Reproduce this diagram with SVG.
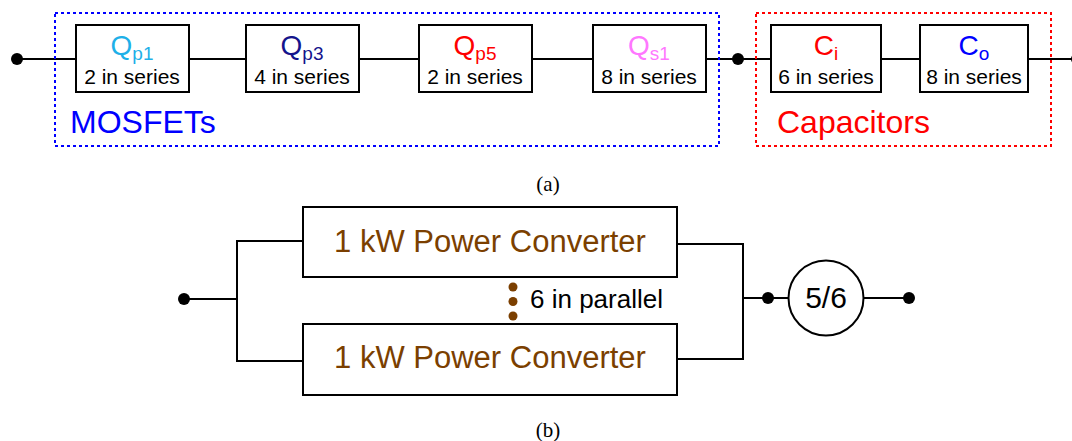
<svg xmlns="http://www.w3.org/2000/svg" width="1072" height="441" viewBox="0 0 1072 441">
<style>
.box{fill:#fff;stroke:#000;stroke-width:2}
.w{fill:none;stroke:#000;stroke-width:2}
.dot{fill:#000}
.bdot{fill:#7B3F00}
text{font-family:"Liberation Sans",Arial,sans-serif}
.big{font-size:28px;text-anchor:middle}
.sub{font-size:19px}
.ser{font-size:21px;text-anchor:middle;fill:#000}
.grp{font-size:32px}
.cap{font-family:"Liberation Serif","Times New Roman",serif;font-size:21px;text-anchor:middle;fill:#000}
.conv{font-size:31px;text-anchor:middle;fill:#7B3F00}
</style>
<rect width="1072" height="441" fill="#fff"/>
<g id="connectors">
<line class="w" x1="17" y1="59" x2="76" y2="59"/>
<line class="w" x1="189" y1="59" x2="246" y2="59"/>
<line class="w" x1="359" y1="59" x2="419" y2="59"/>
<line class="w" x1="532" y1="59" x2="593" y2="59"/>
<line class="w" x1="706" y1="59" x2="771" y2="59"/>
<line class="w" x1="881" y1="59" x2="920" y2="59"/>
<line class="w" x1="1028" y1="59" x2="1072" y2="59"/>
<polyline class="w" points="184,299 237,299"/>
<polyline class="w" points="303,241 237,241 237,361 303,361"/>
<polyline class="w" points="677,244 743,244 743,359 677,359"/>
<line class="w" x1="743" y1="298" x2="788" y2="298"/>
<line class="w" x1="863" y1="298" x2="909" y2="298"/>
</g>
<g id="groups">
<rect x="55" y="13" width="664" height="133" fill="none" stroke="#0000FF" stroke-width="2" stroke-dasharray="3,3"/>
<text class="grp" x="70" y="133" fill="#0000FF">MOSFETs</text>
<rect x="756" y="13" width="295" height="133" fill="none" stroke="#FF0000" stroke-width="2" stroke-dasharray="3,3"/>
<text class="grp" x="777" y="133" fill="#FF0000">Capacitors</text>
</g>
<g id="dots">
<circle class="dot" cx="17" cy="59" r="6"/>
<circle class="dot" cx="738" cy="59" r="6"/>
<circle class="dot" cx="1077" cy="59" r="6"/>
<circle class="dot" cx="184" cy="299" r="6"/>
<circle class="dot" cx="768" cy="298" r="6"/>
<circle class="dot" cx="909" cy="298" r="6"/>
</g>
<g id="Qp1">
<rect class="box" x="76" y="25" width="113" height="67"/>
<text class="big" x="132" y="55" fill="#1EB0E8">Q<tspan class="sub" dy="5">p1</tspan></text>
<text class="ser" x="132" y="84">2 in series</text>
</g>
<g id="Qp3">
<rect class="box" x="246" y="25" width="113" height="67"/>
<text class="big" x="302" y="55" fill="#14148C">Q<tspan class="sub" dy="5">p3</tspan></text>
<text class="ser" x="302" y="84">4 in series</text>
</g>
<g id="Qp5">
<rect class="box" x="419" y="25" width="113" height="67"/>
<text class="big" x="475" y="55" fill="#FF0000">Q<tspan class="sub" dy="5">p5</tspan></text>
<text class="ser" x="475" y="84">2 in series</text>
</g>
<g id="Qs1">
<rect class="box" x="593" y="25" width="113" height="67"/>
<text class="big" x="649" y="55" fill="#FF77FF">Q<tspan class="sub" dy="5">s1</tspan></text>
<text class="ser" x="649" y="84">8 in series</text>
</g>
<g id="Ci">
<rect class="box" x="771" y="25" width="110" height="67"/>
<text class="big" x="826" y="55" fill="#FF0000">C<tspan class="sub" dy="5">i</tspan></text>
<text class="ser" x="826" y="84">6 in series</text>
</g>
<g id="Co">
<rect class="box" x="920" y="25" width="108" height="67"/>
<text class="big" x="974" y="55" fill="#0000FF">C<tspan class="sub" dy="5">o</tspan></text>
<text class="ser" x="974" y="84">8 in series</text>
</g>
<text class="cap" x="548" y="191">(a)</text>
<g id="conv1">
<rect class="box" x="303" y="207" width="374" height="70"/>
<text class="conv" x="490" y="252">1 kW Power Converter</text>
</g>
<g id="conv2">
<rect class="box" x="303" y="324" width="374" height="71"/>
<text class="conv" x="490" y="368">1 kW Power Converter</text>
</g>
<g id="parallel">
<circle class="bdot" cx="513" cy="287" r="4.5"/>
<circle class="bdot" cx="513" cy="301.5" r="4.5"/>
<circle class="bdot" cx="513" cy="316" r="4.5"/>
<text x="530" y="308" font-size="26" fill="#000">6 in parallel</text>
</g>
<g id="ratio">
<circle cx="826" cy="298" r="37.5" fill="#fff" stroke="#000" stroke-width="2"/>
<text x="826" y="308" font-size="30" text-anchor="middle" fill="#000">5/6</text>
</g>
<text class="cap" x="548" y="437">(b)</text>
</svg>
